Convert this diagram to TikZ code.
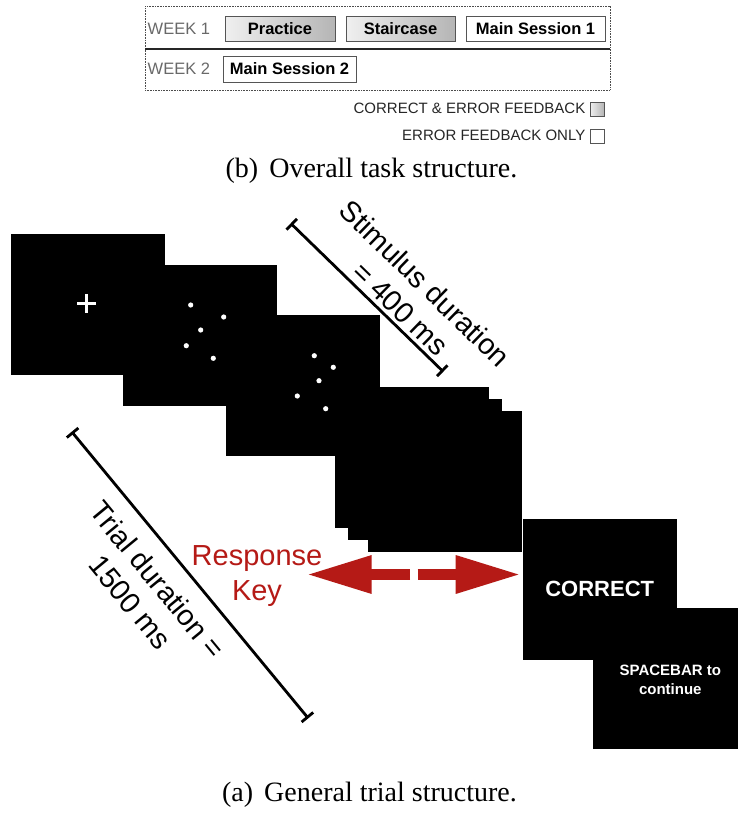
\documentclass[tikz,border=0pt]{standalone}
\usepackage{fontspec}
\setmainfont{Liberation Serif}
\setsansfont{Liberation Sans}
\usetikzlibrary{arrows.meta}
\definecolor{keyred}{RGB}{181,26,22}
\definecolor{boxgray}{RGB}{85,85,85}
\definecolor{weekgray}{RGB}{105,105,105}
\begin{document}
\begin{tikzpicture}[x=1pt,y=-1pt,
  panel/.style={fill=black, minimum width=154pt, minimum height=141pt, inner sep=0pt, outer sep=0pt, text=white, align=center},
  dot/.style={fill=white},
  sess/.style={draw=boxgray, line width=0.8pt, minimum height=25pt, inner sep=0pt, font=\sffamily\bfseries\fontsize{16.5pt}{19pt}\selectfont},
  shadebox/.style={left color=gray!12, right color=gray!58},
  week/.style={anchor=west, inner sep=0pt, text=weekgray, font=\sffamily\fontsize{16.5pt}{19pt}\selectfont},
  legtext/.style={anchor=east, inner sep=0pt, text=black!85, font=\sffamily\fontsize{15pt}{18pt}\selectfont},
  legbox/.style={draw=boxgray, line width=0.7pt, minimum width=14pt, minimum height=14.5pt, inner sep=0pt},
  durtext/.style={inner sep=0pt, align=center, font=\sffamily\fontsize{29pt}{35pt}\selectfont},
  bar/.style={line width=2.8pt, {Bar[width=15pt]}-{Bar[width=15pt]}},
  keyarrow/.style={draw=keyred, line width=10.7pt, -{Triangle[length=65pt, width=35.6pt]}},
  caption/.style={inner sep=0pt, font=\rmfamily\fontsize{28pt}{32pt}\selectfont}
]
\clip (0,0) rectangle (738,815);
\fill[white] (0,0) rectangle (738,815);

% ---------- (b) overall task structure ----------
\node[draw=black!70, dash pattern=on 0.8pt off 0.8pt, line width=0.7pt, minimum width=465pt, minimum height=84pt, inner sep=0pt] (frame) at (377.5,48) {};
\coordinate (sepL) at (145,49);
\coordinate (sepR) at (610,49);
\draw[line width=2.2pt, black!85] (sepL) -- (sepR);

\node[week] (w1) at (147.5,28.5) {WEEK 1};
\node[week] (w2) at (147.5,69) {WEEK 2};
\node[sess, shadebox, minimum width=110pt] (prac) at (280,28.5) {Practice};
\node[sess, shadebox, minimum width=109pt] (stair) at (400.5,28.5) {Staircase};
\node[sess, fill=white, minimum width=139pt] (ms1) at (535.5,28.5) {Main Session 1};
\node[sess, fill=white, minimum width=133pt, minimum height=26pt] (ms2) at (289.5,69) {Main Session 2};

\node[legtext] (leg1) at (585.5,108.5) {CORRECT \& ERROR FEEDBACK};
\node[legbox, shadebox] (lb1) at (597,109.5) {};
\node[legtext] (leg2) at (585.5,135.5) {ERROR FEEDBACK ONLY};
\node[legbox, fill=white] (lb2) at (597,136.5) {};

\node[caption] (capb) at (371.5,171) {(b)\hspace{4pt} Overall task structure.};

% ---------- (a) general trial structure ----------
\node[panel] (p1) at (87.5,304.65) {};
\node[panel] (p2) at (199.7,335) {};
\node[panel] (p3) at (303.35,385.85) {};
\node[panel] (p4a) at (412,457.5) {};
\node[panel] (p4b) at (425.3,469.65) {};
\node[panel] (p4c) at (445,481.2) {};
\node[panel, font=\sffamily\bfseries\fontsize{22pt}{26pt}\selectfont] (correct) at (599.7,589.15) {CORRECT};
\node[panel] (space) at (670.3,678) {};
\node[inner sep=0pt, text=white, align=center, font=\sffamily\bfseries\fontsize{15pt}{19pt}\selectfont] (spacetxt) at (670.3,680) {SPACEBAR to\\continue};

% fixation cross
\draw[white, line width=2.6pt] (77.2,303.3) -- (96.2,303.3) (86.7,293.8) -- (86.7,312.8);
% dots, panel 2
\foreach \px/\py in {190.7/305, 223.7/317, 200.7/330, 186.3/345.7, 213.3/358.3}
  \fill[dot] (\px,\py) circle (2.6pt);
% dots, panel 3
\foreach \px/\py in {314.3/355.7, 333.3/367.3, 319/380.7, 297.3/396, 325.7/408.7}
  \fill[dot] (\px,\py) circle (2.6pt);

% duration bars
\coordinate (s1) at (290.7,223.3);
\coordinate (s2) at (443.3,371.7);
\draw[bar] (s1) -- (s2);
\node[durtext, rotate=-44.2] (stim) at (413,296) {Stimulus duration\\= 400 ms};

\coordinate (t1) at (71.7,431.7);
\coordinate (t2) at (308.3,718.3);
\draw[bar] (t1) -- (t2);
\node[durtext, rotate=-50.5] (trial) at (144,591) {Trial duration =\\1500 ms};

% response key
\node[durtext, text=keyred] (resp) at (257,576) {Response\\Key};
\coordinate (lm) at (410,574.5);
\coordinate (ltip) at (306.7,574.5);
\coordinate (rm) at (417.7,574.5);
\coordinate (rtip) at (520.7,574.5);
\draw[keyarrow] (lm) -- (ltip);
\draw[keyarrow] (rm) -- (rtip);

\node[caption] (capa) at (369.5,795) {(a)\hspace{4pt} General trial structure.};
\end{tikzpicture}
\end{document}
